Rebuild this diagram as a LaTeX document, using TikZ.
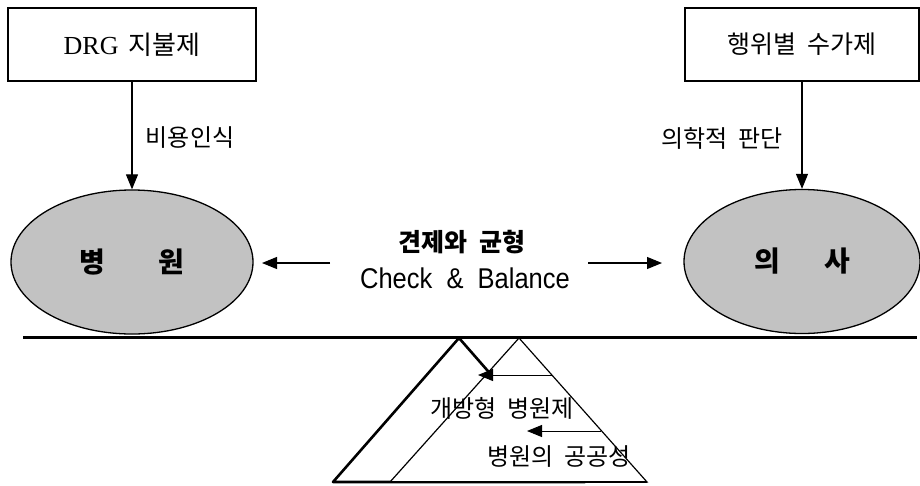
\documentclass[tikz,border=0pt]{standalone}
\usepackage{fontspec}
\setmainfont{Liberation Serif}
\setsansfont{Liberation Sans}
\newfontfamily\kr{Noto Sans CJK KR}
\usetikzlibrary{arrows.meta,shapes.geometric}
\newcommand{\ksp}{\hspace{0.45em}}
\begin{document}
\begin{tikzpicture}[x=1pt,y=-1pt,
  box/.style={draw,line width=1.1pt,minimum height=73pt,inner sep=0pt},
  ell/.style={draw,ellipse,line width=1.3pt,fill=gray!48,minimum height=144pt,inner sep=0pt,
    font=\kr\bfseries\fontsize{28}{30}\selectfont},
  arr/.style={-{Triangle[length=15pt,width=12pt]},line width=1.1pt},
  lbl/.style={font=\kr\fontsize{24}{26}\selectfont,inner sep=0pt}]
\useasboundingbox (0,0) rectangle (920,485);
% boxes
\node[box,minimum width=248pt,font=\fontsize{26}{30}\selectfont] (lbox) at (132,44.5)
  {DRG\hspace{10pt}{\kr\fontsize{26}{30}\selectfont 지불제}};
\node[box,minimum width=234pt] (rbox) at (802,44.5)
  {\kr\fontsize{25}{28}\selectfont 행위별\ksp 수가제};
% ellipses
\node[ell,minimum width=242pt] (lell) at (132,262) {병\hspace{53pt}원};
\node[ell,minimum width=236pt] (rell) at (802,261.5) {의\hspace{44pt}사};
% vertical arrows
\draw[arr] (lbox.south) -- (lell.north);
\draw[arr] (rbox.south) -- (rell.north);
\node[lbl] (l1) at (190,138) {비용인식};
\node[lbl] (l2) at (722,138) {의학적\ksp 판단};
% centre text
\node[font=\kr\bfseries\fontsize{25}{28}\selectfont,inner sep=0pt] (t1) at (462,242) {견제와\ksp 균형};
\node[font=\sffamily\fontsize{25.5}{28}\selectfont,inner sep=0pt] (t2) at (465,278)
  {\scalebox{1}[1.12]{Check\ \ \&\ \ Balance}};
\coordinate (a1s) at (330,263);
\coordinate (a1e) at (262,263);
\coordinate (a2s) at (588,263);
\coordinate (a2e) at (662,263);
\draw[arr] (a1s) -- (a1e);
\draw[arr] (a2s) -- (a2e);
% fulcrum triangles
\coordinate (k1) at (333,482);
\coordinate (k2) at (459,338);
\coordinate (k3) at (585,482);
\coordinate (m1) at (390,482);
\coordinate (m2) at (519,338);
\coordinate (m3) at (647,482);
\draw[line width=2.6pt,line join=round] (k1) -- (k2) -- (k3) -- cycle;
\draw[line width=1.2pt,fill=white] (m1) -- (m2) -- (m3) -- cycle;
\draw[line width=2.2pt] (k1) -- (m3);
\coordinate (b1s) at (553,375);
\coordinate (b1e) at (478,375);
\coordinate (b2s) at (601,431);
\coordinate (b2e) at (527,431);
\draw[arr,line width=1pt] (b1s) -- (b1e);
\draw[arr,line width=1pt] (b2s) -- (b2e);
\node[lbl] (t3) at (502,408) {개방형\ksp 병원제};
\node[lbl] (t4) at (559,457) {병원의\ksp 공공성};
% beam
\coordinate (bl) at (23,337);
\coordinate (br) at (917,337);
\draw[line width=3pt] (bl) -- (br);
\end{tikzpicture}
\end{document}
